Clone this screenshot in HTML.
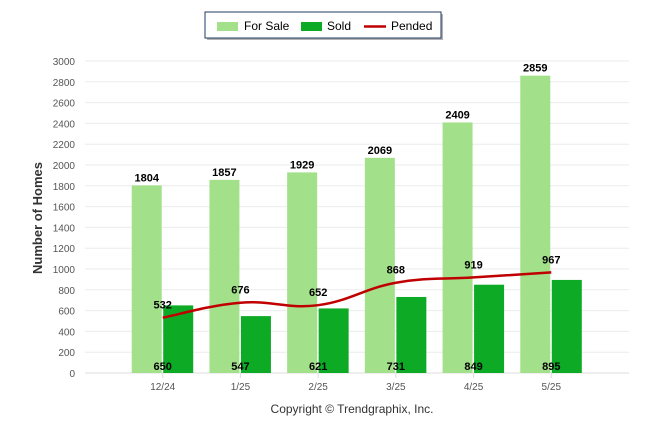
<!DOCTYPE html>
<html><head><meta charset="utf-8"><style>
body{margin:0;background:#fff;font-family:"Liberation Sans",sans-serif}
svg{display:block}
</style></head><body>
<svg id="c" width="646" height="434">
<g id="legend">
<rect x="207" y="14" width="236" height="26" fill="#666" opacity="0.5"/>
<rect x="205" y="12" width="236" height="26" fill="#fff" stroke="#1f3864" stroke-width="1"/>
<g><rect x="217" y="22" width="21" height="9" fill="#a2e08a"/><text x="244" y="30" font-size="12" fill="#000">For Sale</text></g>
<g><rect x="301" y="22" width="21" height="9" fill="#0daa26"/><text x="327" y="30" font-size="12" fill="#000">Sold</text></g>
<g><line x1="364" y1="26.5" x2="386" y2="26.5" stroke="#c00000" stroke-width="2.5"/><text x="391" y="30" font-size="12" fill="#000">Pended</text></g>
</g>
<text transform="translate(42,218) rotate(-90)" text-anchor="middle" font-size="13" font-weight="bold" fill="#333">Number of Homes</text>
<text x="352" y="413" text-anchor="middle" font-size="12" fill="#333">Copyright © Trendgraphix, Inc.</text>
<g id="grid"></g><g id="bars"></g><g id="line"></g><g id="labels"></g>
</svg>
<script>
const categories=["12/24","1/25","2/25","3/25","4/25","5/25"];
const forSale=[1804,1857,1929,2069,2409,2859];
const sold=[650,547,621,731,849,895];
const pended=[532,676,652,868,919,967];
const yTicks=[0,200,400,600,800,1000,1200,1400,1600,1800,2000,2200,2400,2600,2800,3000];
const NS="http://www.w3.org/2000/svg";
const X0=85,X1=629,Y0=373,Y1=61,YMAX=3000;
const step=(X1-X0)/(categories.length+1);
const xc=i=>X0+step*(i+1);
const y=v=>Y0-(v/YMAX)*(Y0-Y1);
function mk(parent,tag,attrs){const e=document.createElementNS(NS,tag);for(const k in attrs)e.setAttribute(k,attrs[k]);document.getElementById(parent).appendChild(e);return e;}
yTicks.forEach(t=>{
 const l=mk('grid','line',{x1:X0,x2:X1,y1:y(t),y2:y(t),stroke:t===0?'#ddd':'#ebebeb','stroke-width':1});
 
 
 const tx=mk('grid','text',{x:75,y:y(t)+4,'text-anchor':'end','font-size':10,fill:'#555'});
 tx.textContent=t;
 
 
});
categories.forEach((c,i)=>{
 const tk=mk('grid','line',{x1:xc(i),x2:xc(i),y1:Y0,y2:Y0+5,stroke:'#ddd'});
 
 
 const tx=mk('grid','text',{x:xc(i),y:390,'text-anchor':'middle','font-size':10,fill:'#555'});
 tx.textContent=c;
 
 
 const b1=mk('bars','rect',{x:xc(i)-31,y:y(forSale[i]),width:30,height:Y0-y(forSale[i]),fill:'#a2e08a'});
 
 
 const b2=mk('bars','rect',{x:xc(i)+0.5,y:y(sold[i]),width:30,height:Y0-y(sold[i]),fill:'#0daa26'});
 
 
 const l1=mk('labels','text',{x:xc(i)-16,y:y(forSale[i])-4,'text-anchor':'middle','font-size':11,'font-weight':'bold'});
 l1.textContent=forSale[i];
 
 
 const l2=mk('labels','text',{x:xc(i),y:370,'text-anchor':'middle','font-size':11,'font-weight':'bold'});
 l2.textContent=sold[i];
 
 
 const l3=mk('labels','text',{x:xc(i),y:y(pended[i])-9,'text-anchor':'middle','font-size':11,'font-weight':'bold'});
 l3.textContent=pended[i];
 
 
});
const pts=pended.map((v,i)=>[xc(i),y(v)]);
let d=`M${pts[0][0]},${pts[0][1]}`;
for(let i=0;i<pts.length-1;i++){
 const p0=pts[Math.max(i-1,0)],p1=pts[i],p2=pts[i+1],p3=pts[Math.min(i+2,pts.length-1)];
 const t=0.2;
 d+=` C${p1[0]+(p2[0]-p0[0])*t},${p1[1]+(p2[1]-p0[1])*t} ${p2[0]-(p3[0]-p1[0])*t},${p2[1]-(p3[1]-p1[1])*t} ${p2[0]},${p2[1]}`;
}
const pl=mk('line','path',{d:d,fill:'none',stroke:'#c00000','stroke-width':2.5});


</script>
</body></html>
